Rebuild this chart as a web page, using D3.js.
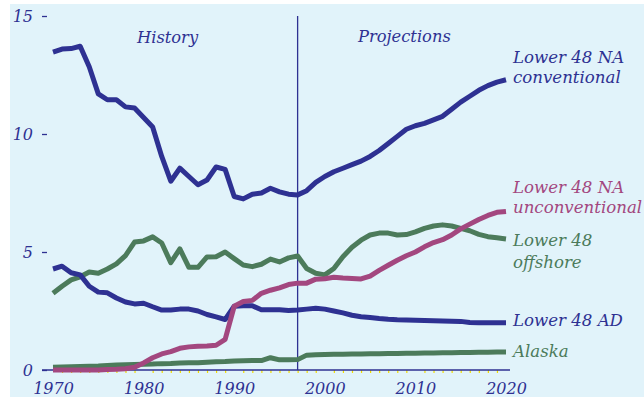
<!DOCTYPE html>
<html>
<head>
<meta charset="utf-8">
<script src="https://cdn.jsdelivr.net/npm/d3@7"></script>
<style>
  html, body { margin: 0; padding: 0; background: #ffffff; }
  svg { display: block; }
  text { font-family: "DejaVu Serif", serif; font-style: italic; }
</style>
</head>
<body>
<svg id="chart" width="644" height="397"></svg>
<script>
// Annual natural gas production by source, trillion cubic feet
const years = d3.range(1970, 2021);

const naConventional = [
  13.47, 13.6, 13.62, 13.72, 12.85, 11.7, 11.45, 11.45, 11.15, 11.1,
  10.7, 10.3, 9.05, 8.0, 8.55, 8.2, 7.85, 8.05, 8.6, 8.5,
  7.35, 7.25, 7.45, 7.5, 7.7, 7.55, 7.45, 7.42, 7.6, 7.95,
  8.2, 8.4, 8.55, 8.7, 8.85, 9.05, 9.3, 9.6, 9.9, 10.2,
  10.35, 10.45, 10.6, 10.75, 11.05, 11.35, 11.6, 11.85, 12.05, 12.2,
  12.3
];

const naUnconventional = [
  0.0, 0.0, 0.0, 0.0, 0.0, 0.0, 0.02, 0.03, 0.05, 0.12,
  0.3, 0.52, 0.68, 0.78, 0.92, 0.98, 1.01, 1.02, 1.05, 1.3,
  2.7, 2.9, 2.95, 3.25, 3.38, 3.48, 3.62, 3.68, 3.68, 3.85,
  3.87, 3.93, 3.9, 3.88, 3.86, 3.98, 4.22, 4.44, 4.65, 4.84,
  5.0, 5.22, 5.4, 5.52, 5.72, 5.98, 6.18, 6.38, 6.55, 6.68,
  6.72
];

const offshore = [
  3.25, 3.55, 3.82, 3.95, 4.15, 4.1, 4.28, 4.5, 4.85, 5.42,
  5.47, 5.64, 5.38, 4.55, 5.13, 4.35, 4.35, 4.79, 4.8, 5.0,
  4.72, 4.45, 4.38, 4.48, 4.7, 4.58, 4.75, 4.83, 4.3, 4.1,
  4.03, 4.3, 4.8, 5.2, 5.5, 5.72, 5.8, 5.8, 5.72, 5.74,
  5.85, 6.0, 6.1, 6.15, 6.1, 6.0, 5.9, 5.75, 5.65, 5.6,
  5.55
];

const associatedDissolved = [
  4.28, 4.4, 4.12, 4.03, 3.55, 3.3, 3.27, 3.05, 2.88, 2.8,
  2.83, 2.68, 2.54, 2.54, 2.58, 2.58, 2.5, 2.35, 2.25, 2.14,
  2.7, 2.72, 2.72, 2.55, 2.55, 2.55, 2.52, 2.54, 2.58, 2.62,
  2.58, 2.5, 2.42, 2.32, 2.26, 2.22, 2.18, 2.15, 2.13, 2.12,
  2.11, 2.1, 2.09, 2.08, 2.07, 2.06, 2.01, 2.0, 2.0, 2.0,
  2.0
];

const alaska = [
  0.12, 0.13, 0.14, 0.15, 0.16, 0.17, 0.19, 0.21, 0.22, 0.23,
  0.24, 0.25, 0.27, 0.28, 0.3, 0.31, 0.31, 0.33, 0.35, 0.36,
  0.38, 0.39, 0.4, 0.4, 0.52, 0.43, 0.43, 0.44, 0.63, 0.65,
  0.66, 0.67, 0.67, 0.68, 0.68, 0.69, 0.69, 0.7, 0.7, 0.71,
  0.71, 0.72, 0.72, 0.73, 0.73, 0.74, 0.74, 0.75, 0.75, 0.76,
  0.76
];

const yTicks = [0, 5, 10, 15];
const xLabelTicks = [1970, 1980, 1990, 2000, 2010, 2020];
const splitYear = 1997;

const BLUE = "#2e3192";
const GREEN = "#4c7b5b";
const PINK = "#a3477f";
const BG = "#e1f3fa";

const svg = d3.select("#chart");

const x = d3.scaleLinear().domain([1970, 2020]).range([53, 506]);
const y = d3.scaleLinear().domain([0, 15]).range([370, 16]);

// panel background
svg.append("rect")
  .attr("x", 10).attr("y", 4)
  .attr("width", 634).attr("height", 393)
  .attr("fill", BG);

// y axis: short dash ticks with italic labels, no spine
const yAxis = svg.append("g")
  .attr("transform", "translate(47,0)")
  .call(d3.axisLeft(y).tickValues(yTicks).tickSize(5).tickPadding(9).tickFormat(d3.format("d")));
yAxis.select(".domain").remove();
yAxis.selectAll(".tick line").attr("stroke", BLUE).attr("stroke-width", 1.3);
yAxis.selectAll(".tick text")
  .attr("fill", BLUE)
  .style("font-size", "16px")
  .style("font-family", "'DejaVu Serif', serif")
  .style("font-style", "italic");

// minor (yearly) ticks on the x axis
const minorYears = years.filter(d => d % 10 !== 0);
const xMinor = svg.append("g")
  .attr("transform", "translate(0,370)")
  .call(d3.axisBottom(x).tickValues(minorYears).tickSize(3).tickFormat(""));
xMinor.select(".domain").remove();
xMinor.selectAll(".tick line").attr("stroke", "#f2dc00").attr("stroke-width", 1.2);

// x axis baseline and decade labels
const xAxis = svg.append("g")
  .attr("transform", "translate(0,370)")
  .call(d3.axisBottom(x).tickValues(xLabelTicks).tickSize(0).tickPadding(13).tickFormat(d3.format("d")));
xAxis.select(".domain").remove();
xAxis.selectAll(".tick text")
  .attr("fill", BLUE)
  .style("font-size", "16px")
  .style("font-family", "'DejaVu Serif', serif")
  .style("font-style", "italic");

svg.append("line")
  .attr("x1", 42).attr("x2", 510)
  .attr("y1", 370).attr("y2", 370)
  .attr("stroke", BLUE).attr("stroke-width", 1.5);

// history / projections divider
svg.append("line")
  .attr("x1", x(splitYear)).attr("x2", x(splitYear))
  .attr("y1", y(15)).attr("y2", y(0))
  .attr("stroke", BLUE).attr("stroke-width", 1.3);

svg.append("text")
  .attr("x", 137).attr("y", 43)
  .attr("fill", BLUE).style("font-size", "16.3px")
  .text("History");
svg.append("text")
  .attr("x", 358).attr("y", 42)
  .attr("fill", BLUE).style("font-size", "16.3px")
  .text("Projections");

// series lines
const line = d3.line()
  .x((d, i) => x(years[i]))
  .y(d => y(d));

const series = [
  { values: offshore, color: GREEN },
  { values: alaska, color: GREEN },
  { values: associatedDissolved, color: BLUE },
  { values: naConventional, color: BLUE },
  { values: naUnconventional, color: PINK }
];

svg.append("g")
  .selectAll("path")
  .data(series)
  .join("path")
  .attr("d", d => line(d.values))
  .attr("fill", "none")
  .attr("stroke", d => d.color)
  .attr("stroke-width", 5)
  .attr("stroke-linejoin", "round");

// series labels at the right end
const labels = [
  { lines: ["Lower 48 NA", "conventional"], baselines: [63, 83], color: BLUE },
  { lines: ["Lower 48 NA", "unconventional"], baselines: [193, 213], color: PINK },
  { lines: ["Lower 48", "offshore"], baselines: [246, 268], color: GREEN },
  { lines: ["Lower 48 AD"], baselines: [326], color: BLUE },
  { lines: ["Alaska"], baselines: [357], color: GREEN }
];

labels.forEach(l => {
  l.lines.forEach((t, i) => {
    svg.append("text")
      .attr("x", 513)
      .attr("y", l.baselines[i])
      .attr("fill", l.color)
      .style("font-size", "16.6px")
      .text(t);
  });
});
</script>
</body>
</html>
